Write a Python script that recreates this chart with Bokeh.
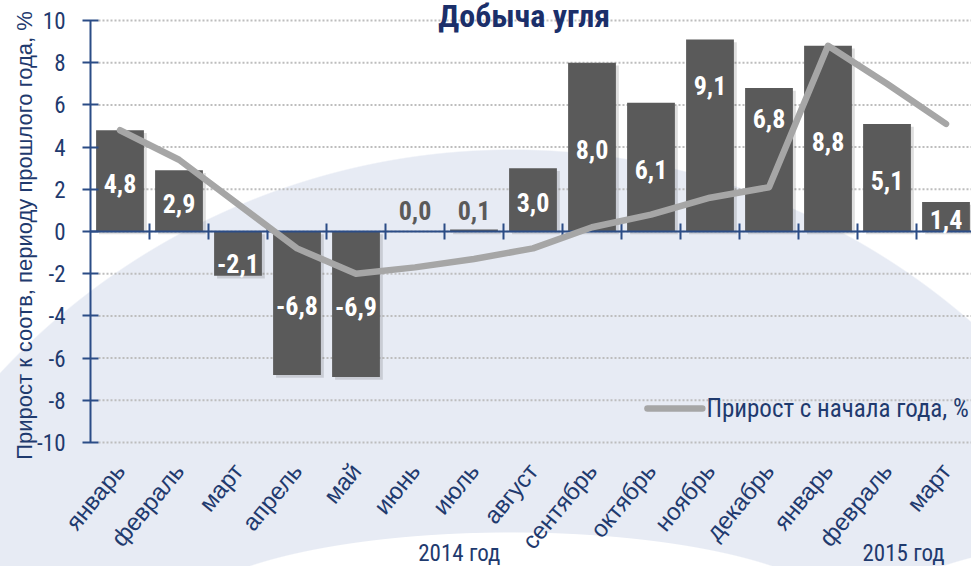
import math
import numpy as np
from bokeh.plotting import figure
from bokeh.models import Range1d, FixedTicker, ColumnDataSource
from bokeh.transform import dodge
from bokeh.core.properties import value
from bokeh.embed import file_html
from bokeh.resources import INLINE

# ---- data ----
months = ["январь", "февраль", "март", "апрель", "май", "июнь", "июль", "август",
          "сентябрь", "октябрь", "ноябрь", "декабрь", "январь", "февраль", "март"]
yoy = [4.8, 2.9, -2.1, -6.8, -6.9, 0.0, 0.1, 3.0, 8.0, 6.1, 9.1, 6.8, 8.8, 5.1, 1.4]
ytd = [4.8, 3.4, 1.3, -0.8, -2.0, -1.7, -1.3, -0.8, 0.2, 0.8, 1.6, 2.1, 8.8, 7.0, 5.1]
year_labels = ["2014 год", "2015 год"]
year_centers = [5.75, 13.28]          # position of the group captions on the month axis
y_ticks = [-10, -8, -6, -4, -2, 0, 2, 4, 6, 8, 10]
y_tick_labels = [str(t) for t in y_ticks]
title_text = "Добыча угля"
y_title = "Прирост к соотв, периоду прошлого года, %"
legend_text = "Прирост с начала года, %"

NAVY = "#1F3A6E"
AXIS = "#2B4C86"
BAR = "#5A5A5A"
LINE = "#A6A6A6"
NARROW = "Roboto Condensed"

x = list(range(len(months)))
PX = 21.1                      # pixels per y unit (frame spans whole height)
UX = 59.0                      # pixels per category
y_lo = -10 - 124 / PX
y_hi = 10 + 20 / PX
x_lo = -0.5 - 78 / UX          # frame starts 12 px from the left edge
x_hi = -0.5 + 881 / UX

p = figure(width=971, height=566, output_backend="svg", toolbar_location=None,
           title=None, x_axis_location=None,
           x_range=Range1d(x_lo, x_hi), y_range=Range1d(y_lo, y_hi),
           min_border_left=12, min_border_right=0, min_border_top=0,
           min_border_bottom=0)
p.outline_line_color = None
p.border_fill_color = None
p.background_fill_color = None
p.grid.visible = False
p.styles = {"background": (
    "radial-gradient(ellipse 336px 90px at 511px 622px, #ffffff 99%, rgba(255,255,255,0) 100%), "
    "radial-gradient(ellipse 336px 90px at 1204px 622px, #ffffff 99%, rgba(255,255,255,0) 100%), "
    "radial-gradient(circle 699px at 512px 848px, #e7ebf4 99.8%, rgba(231,235,244,0) 100%), "
    "#ffffff")}

# y axis: line and ticks at the category-axis start
ya = p.yaxis[0]
ya.ticker = FixedTicker(ticks=y_ticks)
ya.fixed_location = -0.5
ya.bounds = (-10, 10)
ya.major_label_overrides = {t: "" for t in y_ticks}
ya.major_label_standoff = 0
ya.axis_line_color = AXIS
ya.axis_line_width = 2
ya.major_tick_line_color = AXIS
ya.major_tick_line_width = 2
ya.major_tick_in = 8
ya.major_tick_out = 8
ya.minor_tick_line_color = None

# y tick labels and title
p.text(x=[-0.5 - 25 / UX] * len(y_ticks), y=y_ticks, text=y_tick_labels,
       text_align="right", text_baseline="middle", text_color=NAVY,
       text_font=value(NARROW), text_font_size="23px")
p.text(x=[-0.5 - 66 / UX], y=[-0.19], text=[y_title], angle=math.pi / 2,
       text_align="center", text_baseline="middle", text_color=NAVY,
       text_font=value("Liberation Sans"), text_font_size="22px")

# dotted horizontal grid (starts at the axis)
p.segment(x0=-0.5 + 8 / UX, x1=x_hi, y0=y_ticks, y1=y_ticks, line_color="#BDBDBD",
          line_width=2, line_dash="2 2")

# bars (with a soft offset shadow)
src = ColumnDataSource(dict(x=x, v=yoy))
p.vbar(x=dodge("x", 0.05), top=dodge("v", -0.13), bottom=-0.13, width=0.81, source=src,
       fill_color="#000000", fill_alpha=0.13, line_color=None)
p.vbar(x="x", top="v", bottom=0, width=0.81, source=src, fill_color=BAR, line_color=None)

# zero (category) axis line and category boundary ticks
p.segment(x0=-0.5, x1=x_hi, y0=0, y1=0, line_color=AXIS, line_width=2)
bounds = np.arange(len(months) - 1) + 0.5
p.segment(x0=bounds, x1=bounds, y0=-0.38, y1=0.38, line_color=AXIS, line_width=2)

# cumulative line
p.line(x, ytd, line_color=LINE, line_width=6.5, line_cap="round", line_join="round")

# value labels
label_y_override = {2: -1.5, 10: 6.9, 11: 5.35}
lab_y, lab_c = [], []
for i, v in enumerate(yoy):
    if abs(v) < 0.5:
        lab_y.append(1.0)
        lab_c.append(BAR)
    else:
        lab_y.append(label_y_override.get(i, v / 2 - 0.12))
        lab_c.append("#FFFFFF")
lab_t = [f"{v:.1f}".replace(".", ",") for v in yoy]
p.text(x=x, y=lab_y, text=lab_t, text_color=lab_c, text_align="center",
       text_baseline="middle", text_font=value(NARROW), text_font_style="bold",
       text_font_size="26px")

# month labels (category axis labels, rotated)
p.text(x=x, y=[-10 - 24 / PX] * len(x), text=months, angle=0.88,
       text_align="right", text_baseline="middle", text_color=NAVY,
       text_font=value("Liberation Sans"), text_font_size="24px")

# year group captions
p.text(x=year_centers, y=[y_lo + 13 / PX] * 2, text=year_labels, text_align="center",
       text_baseline="alphabetic", text_color=NAVY, text_font=value(NARROW),
       text_font_size="23px")

# legend (manual)
p.line([8.94, 9.87], [-8.39, -8.39], line_color=LINE, line_width=6.5, line_cap="round")
p.text(x=[9.94], y=[-8.39], text=[legend_text], text_color=NAVY, text_align="left",
       text_baseline="middle", text_font=value(NARROW), text_font_size="25px")

# title
p.text(x=[6.85], y=[y_hi - 15 / PX], text=[title_text], text_align="center",
       text_baseline="alphabetic", text_color="#1B2F6A", text_font=value(NARROW),
       text_font_style="bold", text_font_size="32px")

open("out.html", "w").write(file_html(p, INLINE))
